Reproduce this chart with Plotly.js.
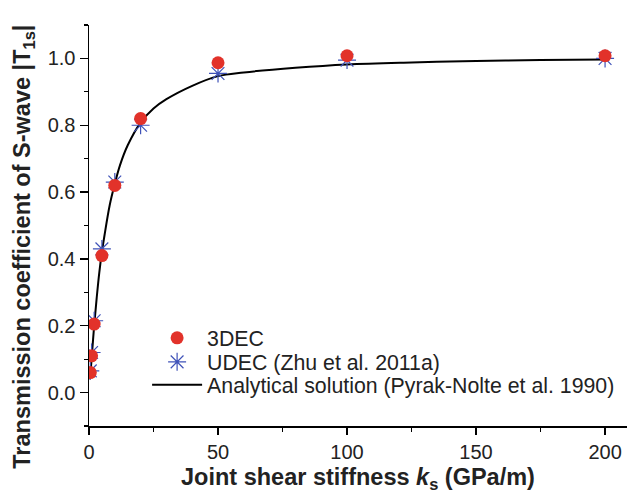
<!DOCTYPE html>
<html>
<head>
<meta charset="utf-8">
<script src="https://cdn.plot.ly/plotly-3.0.1.min.js"></script>
<style>html,body{margin:0;padding:0;background:#fff;}#chart{width:627px;height:492px;}</style>
</head>
<body>
<div id="chart"></div>
<script>
// Data
const kPoints = [0.5, 1, 2, 5, 10, 20, 50, 100, 200];
const t3DEC   = [0.06, 0.11, 0.205, 0.41, 0.62, 0.82, 0.987, 1.008, 1.008];
const tUDEC   = [0.065, 0.12, 0.215, 0.43, 0.63, 0.80, 0.955, 0.995, 1.0];
const kLine = [0.4, 1, 2, 3, 4, 5, 6, 8, 10, 12, 15, 20, 25, 30, 40, 50, 60, 80, 100, 125, 150, 175, 200];
const tLine = [0.04, 0.1, 0.2, 0.285, 0.36, 0.42, 0.47, 0.56, 0.625, 0.68, 0.74, 0.808, 0.85, 0.878, 0.918, 0.947, 0.958, 0.972, 0.982, 0.988, 0.992, 0.995, 0.997];
const xTicks = [0, 50, 100, 150, 200];
const yTicks = [0.0, 0.2, 0.4, 0.6, 0.8, 1.0];
const yTickText = ['0.0', '0.2', '0.4', '0.6', '0.8', '1.0'];

const FONT = 'Liberation Sans, Arial, Helvetica, sans-serif';

const traces = [
  {x: kLine, y: tLine, mode: 'lines', name: 'Analytical solution (Pyrak-Nolte et al. 1990)',
   line: {color: '#000', width: 2, shape: 'spline'}, legend: 'legend3'},
  {x: kPoints, y: tUDEC, mode: 'markers', name: 'UDEC (Zhu et al. 2011a)',
   marker: {symbol: 'asterisk-open', size: 15, color: '#3f52b8', line: {color: '#3f52b8', width: 1.2}}, legend: 'legend2'},
  {x: kPoints, y: t3DEC, mode: 'markers', name: '3DEC',
   marker: {symbol: 'circle', size: 13, color: '#e2322a'}, legend: 'legend'}
];

const legendBase = {x: 0.108, xanchor: 'left', yanchor: 'middle', bgcolor: 'rgba(0,0,0,0)',
  font: {family: FONT, size: 21.3, color: '#222'}, itemwidth: 50, tracegroupgap: 0};

const layout = {
  width: 627, height: 492,
  margin: {l: 89, r: 0, t: 25, b: 66},
  paper_bgcolor: '#fff', plot_bgcolor: '#fff',
  font: {family: FONT, color: '#222', size: 20},
  showlegend: true,
  legend:  Object.assign({}, legendBase, {y: 0.2195}),
  legend2: Object.assign({}, legendBase, {y: 0.1596}),
  legend3: Object.assign({}, legendBase, {y: 0.1022}),
  xaxis: {
    range: [0, 208.5], showgrid: false, zeroline: false,
    showline: true, linecolor: '#000', linewidth: 1.5,
    ticks: 'outside', ticklen: 7, tickwidth: 1.2, tickcolor: '#000',
    tickvals: xTicks, tickfont: {family: FONT, size: 20, color: '#222'},
    minor: {dtick: 25, tick0: 0, ticks: 'outside', ticklen: 4, tickwidth: 1.2, tickcolor: '#000', showgrid: false}
  },
  yaxis: {
    range: [-0.1, 1.1], showgrid: false, zeroline: false,
    showline: true, linecolor: '#000', linewidth: 1.5,
    ticks: 'outside', ticklen: 8, tickwidth: 1.2, tickcolor: '#000',
    tickvals: yTicks, ticktext: yTickText, tickfont: {family: FONT, size: 20, color: '#222'},
    minor: {dtick: 0.2, tick0: 0.1, ticks: 'outside', ticklen: 4, tickwidth: 1.2, tickcolor: '#000', showgrid: false}
  },
  annotations: [
    {text: '<b>Transmission coefficient of S-wave |T<sub>1s</sub>|</b>', xref: 'paper', yref: 'paper',
     x: -0.122, y: 0.448, xanchor: 'center', yanchor: 'middle', textangle: -90, showarrow: false,
     font: {family: FONT, size: 23.5, color: '#222'}},
    {text: '<b>Joint shear stiffness <i>k</i><sub>s</sub> (GPa/m)</b>', xref: 'paper', yref: 'paper',
     x: 0.5, y: -0.09, xanchor: 'center', yanchor: 'top', showarrow: false,
     font: {family: FONT, size: 23.5, color: '#222'}}
  ]
};

Plotly.newPlot('chart', traces, layout, {displayModeBar: false, staticPlot: true});
</script>
</body>
</html>
